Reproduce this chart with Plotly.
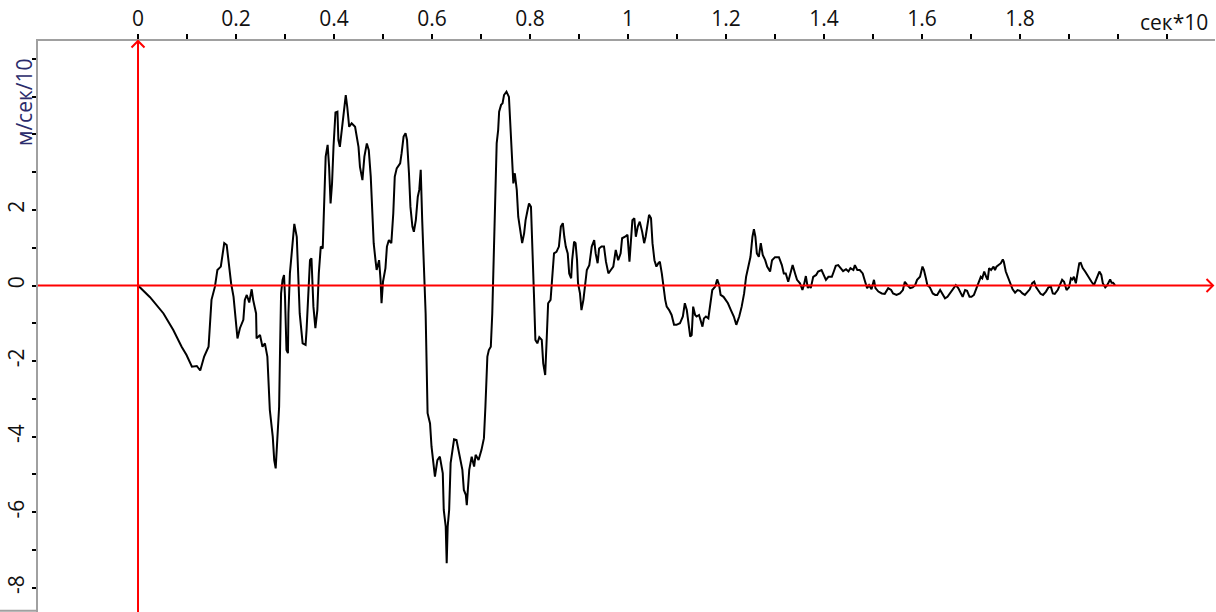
import plotly.graph_objects as go

# time (сек*10) and velocity (м/сек/10)
t = [0.000, 0.0245, 0.052, 0.072, 0.089, 0.099, 0.110, 0.120, 0.127, 0.135,
     0.144, 0.147, 0.150, 0.157, 0.162, 0.169, 0.173, 0.176, 0.181, 0.184,
     0.190, 0.195, 0.200, 0.203, 0.208, 0.215, 0.218, 0.222, 0.227, 0.232,
     0.235, 0.241, 0.242, 0.249, 0.254, 0.259, 0.264, 0.266, 0.269, 0.275,
     0.278, 0.281, 0.284, 0.288, 0.290, 0.292, 0.295, 0.298, 0.300, 0.303,
     0.306, 0.307, 0.310, 0.315, 0.319, 0.324, 0.327, 0.330, 0.336, 0.342,
     0.344, 0.347, 0.351, 0.354, 0.358, 0.362, 0.366, 0.369, 0.373, 0.377,
     0.380, 0.383, 0.387, 0.390, 0.393, 0.396, 0.399, 0.403, 0.407, 0.409,
     0.412, 0.416, 0.420, 0.424, 0.427, 0.431, 0.436, 0.443, 0.450, 0.453,
     0.458, 0.462, 0.467, 0.471, 0.475, 0.478, 0.481, 0.485, 0.487, 0.492,
     0.495, 0.497, 0.500, 0.505, 0.508, 0.512, 0.517, 0.521, 0.524, 0.528,
     0.535, 0.538, 0.542, 0.546, 0.549, 0.553, 0.556, 0.560, 0.563, 0.567,
     0.571, 0.574, 0.577, 0.580, 0.584, 0.587, 0.591, 0.596, 0.599, 0.603,
     0.606, 0.611, 0.616, 0.622, 0.624, 0.628, 0.630, 0.632, 0.635, 0.638,
     0.642, 0.645, 0.650, 0.654, 0.657, 0.662, 0.665, 0.669, 0.671, 0.673,
     0.676, 0.681, 0.686, 0.689, 0.695, 0.701, 0.706, 0.709, 0.713, 0.716,
     0.720, 0.723, 0.725, 0.727, 0.730, 0.732, 0.735, 0.737, 0.741, 0.744,
     0.747, 0.752, 0.757, 0.760, 0.762, 0.764, 0.766, 0.769, 0.773, 0.776,
     0.781, 0.784, 0.788, 0.791, 0.795, 0.798, 0.802, 0.805, 0.808, 0.811,
     0.815, 0.819, 0.824, 0.827, 0.831, 0.834, 0.837, 0.842, 0.846, 0.849,
     0.854, 0.859, 0.863, 0.867, 0.870, 0.873, 0.877, 0.880, 0.884, 0.886,
     0.890, 0.893, 0.896, 0.898, 0.902, 0.905, 0.909, 0.912, 0.916, 0.921,
     0.926, 0.931, 0.934, 0.938, 0.941, 0.946, 0.951, 0.955, 0.960, 0.965,
     0.970, 0.975, 0.980, 0.985, 0.988, 0.994, 0.999, 1.003, 1.006, 1.009,
     1.013, 1.016, 1.020, 1.024, 1.029, 1.033, 1.036, 1.039, 1.043, 1.047,
     1.050, 1.054, 1.058, 1.062, 1.065, 1.069, 1.072, 1.076, 1.079, 1.084,
     1.089, 1.094, 1.099, 1.106, 1.112, 1.116, 1.120, 1.123, 1.127, 1.130,
     1.133, 1.137, 1.140, 1.145, 1.148, 1.152, 1.155, 1.159, 1.164, 1.167,
     1.172, 1.178, 1.182, 1.186, 1.189, 1.195, 1.199, 1.204, 1.210, 1.216,
     1.221, 1.227, 1.232, 1.237, 1.241, 1.246, 1.250, 1.254, 1.257, 1.260,
     1.263, 1.267, 1.271, 1.275, 1.280, 1.284, 1.290, 1.294, 1.300, 1.308,
     1.314, 1.318, 1.322, 1.327, 1.332, 1.336, 1.341, 1.345, 1.351, 1.356,
     1.359, 1.363, 1.367, 1.370, 1.373, 1.378, 1.384, 1.388, 1.395, 1.400,
     1.404, 1.409, 1.416, 1.420, 1.424, 1.429, 1.435, 1.439, 1.445, 1.450,
     1.454, 1.460, 1.463, 1.468, 1.473, 1.479, 1.484, 1.488, 1.492, 1.497,
     1.502, 1.505, 1.511, 1.518, 1.524, 1.531, 1.537, 1.541, 1.548, 1.555,
     1.561, 1.565, 1.570, 1.576, 1.581, 1.586, 1.590, 1.596, 1.601, 1.604,
     1.608, 1.611, 1.616, 1.622, 1.627, 1.631, 1.637, 1.641, 1.647, 1.652,
     1.659, 1.664, 1.669, 1.674, 1.679, 1.683, 1.688, 1.692, 1.697, 1.701,
     1.706, 1.712, 1.716, 1.720, 1.723, 1.727, 1.731, 1.734, 1.737, 1.741,
     1.746, 1.749, 1.752, 1.757, 1.761, 1.765, 1.767, 1.771, 1.776, 1.781,
     1.785, 1.790, 1.795, 1.800, 1.805, 1.810, 1.815, 1.820, 1.825, 1.829,
     1.833, 1.837, 1.842, 1.847, 1.853, 1.858, 1.863, 1.867, 1.871, 1.877,
     1.882, 1.886, 1.890, 1.895, 1.900, 1.904, 1.907, 1.910, 1.914, 1.918,
     1.921, 1.924, 1.928, 1.933, 1.937, 1.941, 1.946, 1.951, 1.955, 1.959,
     1.962, 1.966, 1.969, 1.974, 1.977, 1.980, 1.984, 1.987, 1.990, 1.994]

v = [0.00, -0.31, -0.74, -1.18, -1.62, -1.84, -2.15, -2.13, -2.25, -1.88,
     -1.62, -1.09, -0.38, -0.03, 0.41, 0.50, 0.85, 1.12, 1.07, 0.67,
     0.06, -0.30, -0.91, -1.40, -1.13, -0.91, -0.38, -0.25, -0.45, -0.10,
     -0.38, -0.74, -1.40, -1.31, -1.62, -1.53, -1.88, -2.50, -3.29, -4.00,
     -4.62, -4.84, -4.26, -3.21, -1.62, -0.21, 0.15, 0.28, -0.30, -1.71,
     -1.79, -0.74, 0.32, 1.12, 1.63, 1.29, 0.15, -0.74, -1.53, -1.57,
     -1.18, -0.30, 0.67, 0.72, -0.56, -1.13, -0.65, 0.32, 1.03, 0.98,
     2.08, 3.41, 3.72, 3.14, 2.17, 2.70, 3.67, 4.58, 4.60, 3.85,
     3.67, 4.11, 4.56, 5.04, 4.73, 4.20, 4.29, 4.20, 3.67, 3.14,
     2.79, 3.41, 3.76, 3.58, 2.88, 2.08, 1.12, 0.63, 0.41, 0.67,
     0.15, -0.47, 0.10, 0.46, 1.03, 1.20, 1.12, 1.91, 2.88, 3.10,
     3.23, 3.50, 3.94, 4.03, 3.85, 2.97, 2.08, 1.56, 1.42, 1.73,
     2.35, 2.53, 3.06, 1.73, 0.32, -0.74, -3.38, -3.65, -4.26, -4.70,
     -5.06, -4.62, -4.53, -4.97, -5.94, -6.38, -7.35, -6.38, -5.94, -4.70,
     -4.26, -4.07, -4.09, -4.35, -4.62, -4.88, -5.41, -5.54, -5.81, -5.50,
     -4.88, -4.53, -4.79, -4.48, -4.62, -4.35, -4.04, -3.21, -1.88, -1.71,
     -1.62, -0.74, 0.32, 1.91, 3.23, 3.76, 4.11, 4.60, 4.78, 4.82,
     5.04, 5.13, 4.99, 4.29, 3.67, 3.14, 2.70, 2.97, 2.53, 1.82,
     1.38, 1.12, 1.38, 1.73, 1.99, 2.17, 2.08, 1.12, -0.21, -1.44,
     -1.53, -1.37, -1.44, -2.06, -2.37, -1.44, -0.47, -0.38, 0.32, 0.85,
     0.89, 1.03, 1.56, 1.65, 1.29, 1.03, 0.85, 0.32, 0.19, 0.67,
     1.16, 1.12, 0.67, 0.06, -0.21, -0.65, -0.38, -0.03, 0.41, 0.54,
     1.03, 1.20, 0.85, 0.59, 0.98, 1.03, 1.03, 0.63, 0.32, 0.41,
     0.50, 0.94, 0.67, 0.85, 1.25, 1.29, 1.34, 0.63, 1.20, 1.73,
     1.78, 1.29, 1.56, 1.69, 1.42, 1.12, 1.29, 1.56, 1.87, 1.78,
     1.12, 0.67, 0.50, 0.59, 0.63, 0.32, -0.03, -0.38, -0.56, -0.65,
     -0.78, -1.04, -1.04, -1.00, -0.82, -0.47, -0.65, -0.91, -1.35, -1.31,
     -0.56, -0.78, -0.82, -0.78, -0.91, -1.09, -0.87, -0.82, -0.87, -0.56,
     -0.12, -0.03, 0.16, 0.01, -0.25, -0.30, -0.38, -0.47, -0.65, -0.82,
     -1.04, -0.82, -0.56, -0.21, 0.23, 0.50, 0.76, 1.29, 1.49, 1.29,
     0.85, 0.76, 1.12, 0.81, 0.67, 0.50, 0.37, 0.67, 0.75, 0.75,
     0.54, 0.32, 0.32, 0.10, 0.37, 0.54, 0.32, 0.15, 0.06, -0.12,
     0.01, 0.25, -0.07, 0.01, -0.07, 0.23, 0.28, 0.37, 0.41, 0.28,
     0.15, 0.23, 0.23, 0.37, 0.52, 0.54, 0.46, 0.38, 0.43, 0.37,
     0.46, 0.41, 0.54, 0.41, 0.41, 0.32, 0.10, -0.07, 0.01, -0.10,
     0.15, -0.07, -0.16, -0.21, -0.22, -0.07, -0.12, -0.21, -0.25, -0.21,
     -0.12, 0.10, 0.01, -0.07, -0.05, 0.01, 0.15, 0.23, 0.50, 0.41,
     0.19, 0.01, -0.05, -0.21, -0.25, -0.25, -0.12, -0.21, -0.34, -0.30,
     -0.16, -0.07, 0.01, -0.07, -0.21, -0.30, -0.12, -0.14, -0.30, -0.30,
     -0.25, -0.03, 0.10, 0.23, 0.19, 0.37, 0.23, 0.15, 0.46, 0.41,
     0.50, 0.41, 0.50, 0.54, 0.59, 0.69, 0.63, 0.37, 0.19, 0.06,
     -0.10, -0.19, -0.12, -0.14, -0.21, -0.25, -0.16, -0.10, 0.06, 0.10,
     -0.05, -0.12, -0.22, -0.25, -0.16, -0.05, -0.03, -0.21, -0.22, -0.12,
     0.06, 0.15, 0.10, -0.12, -0.05, 0.19, 0.16, 0.23, 0.06, 0.37,
     0.59, 0.60, 0.46, 0.37, 0.28, 0.19, 0.10, 0.01, 0.15, 0.28,
     0.37, 0.28, 0.06, -0.05, -0.01, 0.06, 0.16, 0.07, 0.07, 0.01]

x_tickvals = [round(0.1 * i, 1) for i in range(0, 22)]
x_ticktext = ["0", "", "0.2", "", "0.4", "", "0.6", "", "0.8", "", "1", "",
              "1.2", "", "1.4", "", "1.6", "", "1.8", "", "", ""]
y_tickvals = list(range(-8, 7))
y_ticktext = ["-8", "", "-6", "", "-4", "", "-2", "", "0", "", "2", "", "", "", ""]

x_unit = "сек*10"
y_unit = "м/сек/10"

X_RANGE = [-0.2041, 2.198]
Y_RANGE = [-8.64, 6.47]

fig = go.Figure()
fig.add_trace(go.Scatter(x=t, y=v, mode="lines",
                         line=dict(color="black", width=2),
                         hoverinfo="skip", showlegend=False))

FONT = "Open Sans, Noto Sans, DejaVu Sans, sans-serif"

fig.update_layout(
    width=1216, height=612,
    margin=dict(l=38, r=1, t=41, b=0, pad=0),
    paper_bgcolor="white", plot_bgcolor="white",
    font=dict(family=FONT, size=21, color="#111111"),
    xaxis=dict(range=X_RANGE, side="top", tickmode="array",
               tickvals=x_tickvals, ticktext=x_ticktext,
               ticks="outside", ticklen=5, tickwidth=2, tickcolor="black",
               showline=True, linecolor="#a0a0a0", linewidth=2,
               showgrid=False, zeroline=False, automargin=False,
               tickfont=dict(family=FONT, size=21, color="#111111")),
    yaxis=dict(range=Y_RANGE, tickmode="array",
               tickvals=y_tickvals, ticktext=y_ticktext, tickangle=-90,
               ticks="outside", ticklen=4, tickwidth=2, tickcolor="black",
               showline=True, linecolor="#a0a0a0", linewidth=2,
               showgrid=False, zeroline=False, automargin=False,
               tickfont=dict(family=FONT, size=21, color="#111111")),
)

red = dict(color="#ff0000", width=2)
# red coordinate axes with open arrowheads
ax_dx = 6.5 / 490.0
ax_dy_paper = 6.5 / 571.0
fig.add_shape(type="line", xref="x", yref="paper", x0=0, x1=0, y0=0, y1=1,
              line=red, layer="above")
fig.add_shape(type="path", xref="x", yref="paper",
              path=f"M {-ax_dx},{1 - ax_dy_paper} L 0,1 L {ax_dx},{1 - ax_dy_paper}",
              line=red, layer="above")
x_end = (1213 - 38) / 1177.0
dy = 6.5 / 37.8
fig.add_shape(type="line", xref="paper", yref="y", x0=0, x1=x_end, y0=0, y1=0,
              line=red, layer="above")
fig.add_shape(type="path", xref="paper", yref="y",
              path=f"M {x_end - 6.5/1177.0},{dy} L {x_end},0 L {x_end - 6.5/1177.0},{-dy}",
              line=red, layer="above")
# small frame line at bottom left
fig.add_shape(type="line", xref="paper", yref="paper", x0=-38/1177.0, x1=0,
              y0=0.002, y1=0.002, line=dict(color="#a0a0a0", width=2))

fig.add_annotation(text=x_unit, xref="paper", yref="paper",
                   x=(1174 - 38) / 1177.0, y=(612 - 22) / 571.0,
                   xanchor="center", yanchor="middle",
                   showarrow=False, font=dict(family=FONT, size=21, color="#111111"))
fig.add_annotation(text=y_unit, xref="paper", yref="paper",
                   x=(24 - 38) / 1177.0, y=(612 - 102) / 571.0, textangle=-90,
                   xanchor="center", yanchor="middle",
                   showarrow=False, font=dict(family=FONT, size=21, color="#2b2b6b"))

fig.write_html("out.html", config={"displayModeBar": False},
               post_script="document.body.style.margin='0';document.body.style.overflow='hidden';")
